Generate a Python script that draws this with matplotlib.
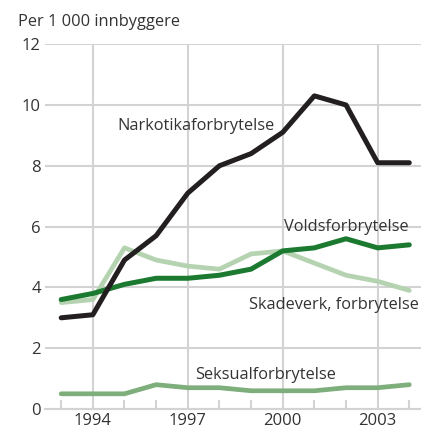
import numpy as np
import matplotlib.pyplot as plt

plt.rcParams['font.family'] = ['Open Sans', 'DejaVu Sans']

years = np.arange(1993, 2005)
narkotika = [3.0, 3.1, 4.9, 5.7, 7.1, 8.0, 8.4, 9.1, 10.3, 10.0, 8.1, 8.1]
volds = [3.6, 3.8, 4.1, 4.3, 4.3, 4.4, 4.6, 5.2, 5.3, 5.6, 5.3, 5.4]
skadeverk = [3.5, 3.6, 5.3, 4.9, 4.7, 4.6, 5.1, 5.2, 4.8, 4.4, 4.2, 3.9]
seksual = [0.5, 0.5, 0.5, 0.8, 0.7, 0.7, 0.6, 0.6, 0.6, 0.7, 0.7, 0.8]

fig = plt.figure(figsize=(4.21, 4.33), dpi=100)
ax = fig.add_axes([0.107, 0.0554, 0.893, 0.8426])

grid = '#d3d3d3'
ax.plot(years, skadeverk, color='#b5d3b1', lw=3.4, solid_capstyle='round', zorder=3)
ax.plot(years, seksual, color='#7eae7b', lw=3.4, solid_capstyle='round', zorder=3)
ax.plot(years, volds, color='#1c7a30', lw=3.6, solid_capstyle='round', zorder=4)
ax.plot(years, narkotika, color='#231f20', lw=3.6, solid_capstyle='round', zorder=5)

ax.set_xlim(1992.49, 2004.37)
ax.set_ylim(0, 12)
ax.set_yticks(range(0, 13, 2))
ax.set_xticks([1994, 1997, 2000, 2003])
ax.set_xticks(years, minor=True)
ax.grid(True, which='major', color=grid, lw=1.5, zorder=0)
for s in ['top', 'right', 'left']:
    ax.spines[s].set_visible(False)
ax.spines['bottom'].set_color(grid)
ax.spines['bottom'].set_linewidth(1.5)
ax.tick_params(axis='y', length=0, pad=3, labelsize=12, labelcolor='#333333')
ax.tick_params(axis='x', which='major', length=0, pad=3, labelsize=12, labelcolor='#333333')
ax.tick_params(axis='x', which='minor', direction='in', length=6.5, width=1.5, color=grid)

txt = dict(fontsize=11.8, color='#333333', va='center', zorder=6)
ax.text(1994.77, 9.3, 'Narkotikaforbrytelse', ha='left', **txt)
ax.text(2003.99, 5.98, 'Voldsforbrytelse', ha='right', **txt)
ax.text(2004.3, 3.42, 'Skadeverk, forbrytelse', ha='right', **txt)
ax.text(1997.23, 1.12, 'Seksualforbrytelse', ha='left', **txt)

fig.text(18 / 421, 1 - 22 / 433, 'Per 1 000 innbyggere', fontsize=11.8,
         color='#333333', ha='left', va='center')

fig.savefig('out.png', dpi=100)
